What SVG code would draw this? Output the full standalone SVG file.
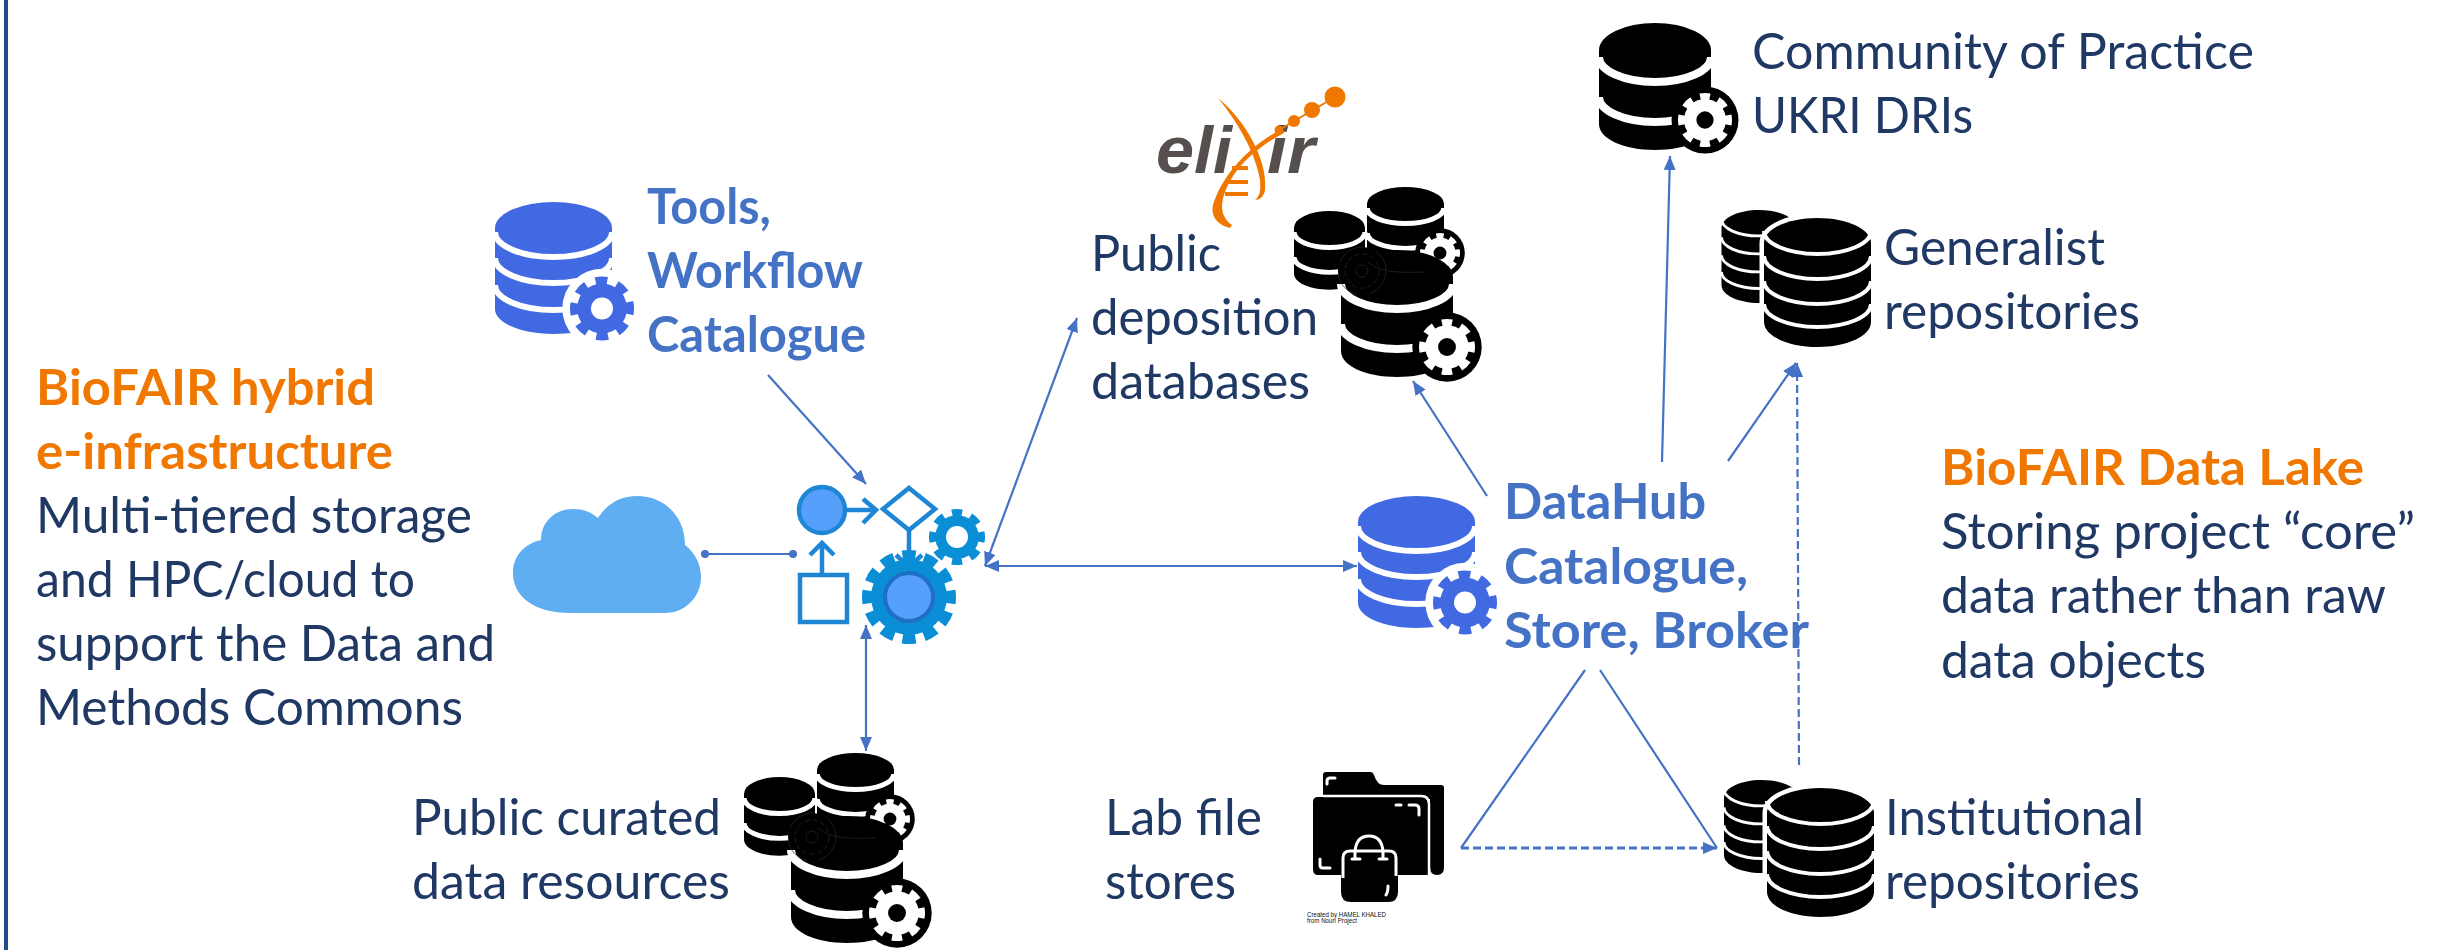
<svg xmlns="http://www.w3.org/2000/svg" width="2442" height="950" viewBox="0 0 2442 950">
<style>
text{font-family:Lato,"Noto Sans","Liberation Sans",sans-serif;font-size:50px}
.navy,.org,.blu{transform:translate(-2px,1px)}
.navy{fill:#1f3864}
.org{fill:#f07800;font-weight:700}
.blu{fill:#4472c4;font-weight:700}
.c{fill:none;stroke:#4472c4;stroke-width:2.2}
.d{stroke-dasharray:8 4}
.wf{fill:none;stroke:#1f86d6;stroke-width:4.5}
.band{fill:none;stroke:#fff}
.credit{font-family:"Liberation Sans",sans-serif;font-size:6.5px;fill:#111}
.logo{font-family:"Liberation Sans",sans-serif;font-style:italic;font-weight:700;font-size:66px;fill:#55504d}
</style>
<defs>
<marker id="ah" viewBox="0 0 14 12" refX="14" refY="6" markerWidth="14" markerHeight="12" markerUnits="userSpaceOnUse" orient="auto-start-reverse"><path d="M0,0L14,6L0,12Z" fill="#4472c4"/></marker>
<g id="teeth"><circle r="19.5" fill="currentColor"/><circle r="21.5" fill="none" stroke="currentColor" stroke-width="7" pathLength="80" stroke-dasharray="5.4 4.6" stroke-dashoffset="2.7"/></g>
<g id="gearK"><circle r="31" fill="#000"/><use href="#teeth" style="color:#fff"/><circle r="8" fill="#000"/></g>
<g id="gearB"><circle r="31" fill="#fff"/><use href="#teeth" style="color:#4169e1"/><circle r="8.6" fill="#fff"/></g>
<g id="cyl2"><path d="M0,27V101C0,116 25,127 56,127S112,116 112,101V27A56,27 0 0 0 0,27Z" fill="#000"/><path class="band" stroke-width="8" d="M0,34A56,25 0 0 0 112,34M0,74A56,25 0 0 0 112,74"/></g>
<g id="dbB"><path d="M0,26V107C0,121 26,132 58.5,132S117,121 117,107V26A58.5,26 0 0 0 0,26Z" fill="#4169e1"/><path class="band" stroke-width="6" d="M0,30A58.5,25 0 0 0 117,30M0,56A58.5,25 0 0 0 117,56M0,83A58.5,25 0 0 0 117,83"/><use href="#gearB" transform="translate(107,106.5) scale(1.28)"/></g>
<path id="cyl4shape" d="M0,25V104C0,118 24,129 53.5,129S107,118 107,104V25C107,11 83,0 53.5,0S0,11 0,25Z"/>
<g id="cyl4"><use href="#cyl4shape" fill="#000"/><path class="band" stroke-width="4" d="M0,13A53.5,23 0 0 0 107,13M0,38A53.5,23 0 0 0 107,38M0,63A53.5,23 0 0 0 107,63M0,86A53.5,23 0 0 0 107,86"/></g>
<g id="cyl4halo"><use href="#cyl4shape" fill="#fff" stroke="#fff" stroke-width="9"/><use href="#cyl4"/></g>
<g id="cluster">
<use href="#cyl2" transform="translate(1367,187) scale(.6875,.62)"/>
<use href="#gearK" transform="translate(1440,253) scale(.8)"/>
<use href="#cyl2" transform="translate(1294,211) scale(.634,.62)"/>
<circle cx="1362" cy="271" r="24" fill="#000"/>
<use href="#cyl2" transform="translate(1341,250)"/>
<g fill="none" stroke="#2a2a2a" stroke-width=".7"><circle cx="1362" cy="271" r="17" stroke-dasharray="5 3"/><circle cx="1362" cy="271" r="6"/><circle cx="1362" cy="271" r="24" stroke-dasharray="30 12"/><path d="M1368,262C1380,272 1395,273 1425,272"/></g>
<use href="#gearK" transform="translate(1447,347) scale(1.12)"/>
</g>
</defs>
<rect width="2442" height="950" fill="#fff"/>
<rect id="frame" x="4" y="0" width="4" height="950" fill="#1f4e8c"/>

<g id="connectors">
<line class="c" x1="768" y1="375" x2="866" y2="484" marker-end="url(#ah)"/>
<line class="c" x1="705" y1="554" x2="793" y2="554"/>
<circle cx="705" cy="554" r="4" fill="#4472c4"/><circle cx="793" cy="554" r="4" fill="#4472c4"/>
<line class="c" x1="985" y1="566" x2="1077" y2="318" marker-start="url(#ah)" marker-end="url(#ah)"/>
<line class="c" x1="985" y1="566" x2="1357" y2="566" marker-start="url(#ah)" marker-end="url(#ah)"/>
<line class="c" x1="866" y1="625" x2="866" y2="751" marker-start="url(#ah)" marker-end="url(#ah)"/>
<line class="c" x1="1487" y1="496" x2="1413" y2="381" marker-end="url(#ah)"/>
<line class="c" x1="1662" y1="462" x2="1670" y2="156" marker-end="url(#ah)"/>
<line class="c" x1="1728" y1="461" x2="1796" y2="363" marker-end="url(#ah)"/>
<line class="c d" x1="1799" y1="765" x2="1797" y2="363" marker-end="url(#ah)"/>
<line class="c" x1="1585" y1="670" x2="1461" y2="848"/>
<line class="c" x1="1600" y1="670" x2="1717" y2="848"/>
<line class="c d" style="stroke-width:2.8" x1="1461" y1="848" x2="1717" y2="848" marker-end="url(#ah)"/>
</g>

<g id="infra-label">
<text class="org" x="38" y="404" textLength="339" lengthAdjust="spacingAndGlyphs">BioFAIR hybrid</text>
<text class="org" x="38" y="468" textLength="357" lengthAdjust="spacingAndGlyphs">e-infrastructure</text>
<text class="navy" x="38" y="532" textLength="436" lengthAdjust="spacingAndGlyphs">Multi-tiered storage</text>
<text class="navy" x="38" y="596" textLength="379" lengthAdjust="spacingAndGlyphs">and HPC/cloud to</text>
<text class="navy" x="38" y="660" textLength="459" lengthAdjust="spacingAndGlyphs">support the Data and</text>
<text class="navy" x="38" y="724" textLength="427" lengthAdjust="spacingAndGlyphs">Methods Commons</text>
</g>

<g id="tools">
<use href="#dbB" transform="translate(495,202)"/>
<text class="blu" x="649" y="223" textLength="124" lengthAdjust="spacingAndGlyphs">Tools,</text>
<text class="blu" x="649" y="287" textLength="216" lengthAdjust="spacingAndGlyphs">Workflow</text>
<text class="blu" x="649" y="351" textLength="219" lengthAdjust="spacingAndGlyphs">Catalogue</text>
</g>

<g id="cloud"><path d="M570,613C535,613 513,597 513,573C513,556 524,544 541,540C541,522 555,509 573,509C583,509 591,512 598,518C607,504 620,496 637,496C665,496 685,517 685,545C694,552 701,563 701,577C701,597 685,613 665,613Z" fill="#60aef2"/></g>

<g id="workflow">
<circle cx="822" cy="510" r="23" fill="#56a0fb" stroke="#1f86d6" stroke-width="4.5"/>
<path class="wf" d="M846,510H875M863,499L876,510L863,523"/>
<path class="wf" d="M909,488L935,509L909,530L883,509Z"/>
<path class="wf" d="M909,530V566M896,555L909,567L922,555"/>
<rect class="wf" x="800" y="575" width="47" height="47"/>
<path class="wf" d="M822,575V544M810,555L822,543L834,555"/>
<use href="#teeth" transform="translate(957,537) scale(1.12)" style="color:#0a8fd6"/><circle cx="957" cy="537" r="11" fill="#fff"/>
<circle cx="909" cy="597" r="38" fill="#0a8fd6"/><circle cx="909" cy="597" r="41" fill="none" stroke="#0a8fd6" stroke-width="12" pathLength="120" stroke-dasharray="6 4" stroke-dashoffset="3"/>
<circle cx="909" cy="597" r="24" fill="#56a0fb" stroke="#1f6fc4" stroke-width="4"/>
</g>

<g id="elixir">
<text class="logo" x="1156" y="173" textLength="76" lengthAdjust="spacingAndGlyphs">eli</text>
<text class="logo" x="1267" y="173" textLength="48" lengthAdjust="spacingAndGlyphs">ir</text>
<g fill="#f07800">
<path d="M1218,98C1245,120 1268,160 1265,190C1264,197 1259,200 1255,200C1260,196 1261,190 1260,180C1256,155 1240,125 1218,98Z"/>
<path d="M1282,129C1250,145 1222,175 1213,205C1210,218 1220,226 1230,228L1232,225C1222,218 1220,208 1224,195C1232,170 1255,148 1284,133Z"/>
<circle cx="1335" cy="97" r="10.5"/><circle cx="1312" cy="110" r="8"/><circle cx="1294" cy="121" r="6"/><circle cx="1279" cy="130" r="4.5"/>
</g>
<path d="M1279,130L1335,97" stroke="#f07800" stroke-width="2" fill="none"/>
<path d="M1232,168H1248M1228,182H1248M1225,194H1248" stroke="#f07800" stroke-width="4" fill="none"/>
</g>

<g id="public-deposition">
<use href="#cluster"/>
<text class="navy" x="1093" y="270" textLength="130" lengthAdjust="spacingAndGlyphs">Public</text>
<text class="navy" x="1093" y="334" textLength="227" lengthAdjust="spacingAndGlyphs">deposition</text>
<text class="navy" x="1093" y="398" textLength="219" lengthAdjust="spacingAndGlyphs">databases</text>
</g>

<g id="public-curated">
<use href="#cluster" transform="translate(-550,566)"/>
<text class="navy" x="414" y="834" textLength="309" lengthAdjust="spacingAndGlyphs">Public curated</text>
<text class="navy" x="414" y="898" textLength="318" lengthAdjust="spacingAndGlyphs">data resources</text>
</g>

<g id="community">
<use href="#cyl2" transform="translate(1599,23)"/>
<use href="#gearK" transform="translate(1705,120) scale(1.08)"/>
<text class="navy" x="1754" y="68" textLength="502" lengthAdjust="spacingAndGlyphs">Community of Practice</text>
<text class="navy" x="1754" y="132" textLength="221" lengthAdjust="spacingAndGlyphs">UKRI DRIs</text>
</g>

<g id="generalist">
<use href="#cyl4" transform="translate(1721.5,210) scale(.7,.72)"/>
<use href="#cyl4halo" transform="translate(1764,218)"/>
<text class="navy" x="1886" y="264" textLength="221" lengthAdjust="spacingAndGlyphs">Generalist</text>
<text class="navy" x="1886" y="328" textLength="256" lengthAdjust="spacingAndGlyphs">repositories</text>
</g>

<g id="datahub">
<use href="#dbB" transform="translate(1358,496)"/>
<text class="blu" x="1506" y="518" textLength="202" lengthAdjust="spacingAndGlyphs">DataHub</text>
<text class="blu" x="1506" y="583" textLength="244" lengthAdjust="spacingAndGlyphs">Catalogue,</text>
<text class="blu" x="1506" y="647" textLength="305" lengthAdjust="spacingAndGlyphs">Store, Broker</text>
</g>

<g id="data-lake">
<text class="org" x="1943" y="484" textLength="423" lengthAdjust="spacingAndGlyphs">BioFAIR Data Lake</text>
<text class="navy" x="1943" y="548" textLength="474" lengthAdjust="spacingAndGlyphs">Storing project “core”</text>
<text class="navy" x="1943" y="612" textLength="445" lengthAdjust="spacingAndGlyphs">data rather than raw</text>
<text class="navy" x="1943" y="677" textLength="265" lengthAdjust="spacingAndGlyphs">data objects</text>
</g>

<g id="lab-file">
<path d="M1323,775Q1323,772 1326,772H1370Q1373,772 1374,775Q1377,785 1384,785H1441Q1444,785 1444,788V867Q1444,875 1437,875Q1430,875 1430,867V799H1323Z" fill="#000"/>
<path d="M1313,802Q1313,797 1318,797H1421Q1428,797 1428,804V875H1318Q1313,875 1313,869Z" fill="#000"/>
<path d="M1323,796H1421Q1429,796 1429,804V875" fill="none" stroke="#fff" stroke-width="2.5"/>
<path d="M1341,877V857Q1341,849 1349,849H1390Q1398,849 1398,857V892Q1398,902 1388,902H1351Q1341,902 1341,892Z" fill="#000"/>
<path d="M1343,878V858Q1343,851 1350,851H1389Q1396,851 1396,858V876" fill="none" stroke="#fff" stroke-width="3"/>
<path d="M1355,858V852Q1356,836 1369,836Q1382,836 1383,852V858" fill="none" stroke="#fff" stroke-width="3"/>
<path d="M1352,859H1360M1379,859H1387M1396,805H1401M1409,805H1415Q1419,805 1419,809V815M1320,859V865Q1320,868 1323,868H1330M1327,784V781Q1327,778 1330,778H1335M1386,895Q1388,892 1388,886" fill="none" stroke="#fff" stroke-width="3" stroke-linecap="round"/>
<text class="credit" x="1307" y="917" textLength="79" lengthAdjust="spacingAndGlyphs">Created by HAMEL KHALED</text>
<text class="credit" x="1307" y="923" textLength="50" lengthAdjust="spacingAndGlyphs">from Noun Project</text>
<text class="navy" x="1107" y="834" textLength="157" lengthAdjust="spacingAndGlyphs">Lab file</text>
<text class="navy" x="1107" y="898" textLength="131" lengthAdjust="spacingAndGlyphs">stores</text>
</g>

<g id="institutional">
<use href="#cyl4" transform="translate(1724,780) scale(.7,.72)"/>
<use href="#cyl4halo" transform="translate(1767,788)"/>
<text class="navy" x="1887" y="834" textLength="259" lengthAdjust="spacingAndGlyphs">Institutional</text>
<text class="navy" x="1887" y="898" textLength="255" lengthAdjust="spacingAndGlyphs">repositories</text>
</g>
</svg>
